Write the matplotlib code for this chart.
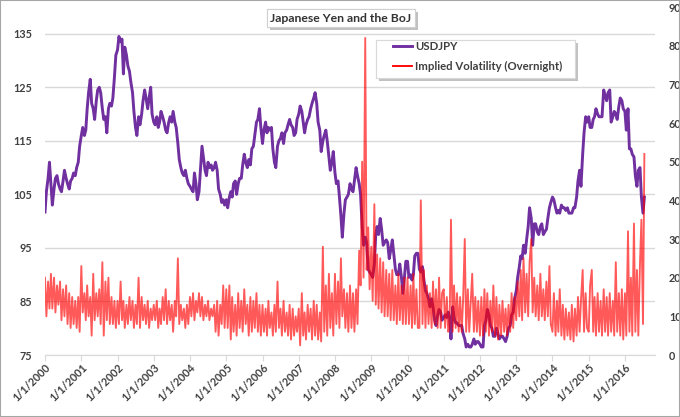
import matplotlib
matplotlib.use('Agg')
import matplotlib.pyplot as plt
import matplotlib.dates as mdates
import matplotlib.patheffects as pe
from matplotlib.patches import Rectangle
import pandas as pd

# semi-monthly readings (1st and 15th of each month), Jan 2000 - Jul 2016
start_date = '2000-01-01'

usdjpy_by_year = [
    [101.7, 105.5, 108, 111, 107, 103, 106, 108, 108.5, 107, 106, 105.5, 107.5, 109.5, 108, 107, 106, 107.5, 108, 109, 108.5, 110, 111, 114],
    [116, 117.5, 116, 117, 121, 124, 126.5, 122, 121, 119, 122.5, 124.5, 125, 124, 121, 119, 119.5, 116.5, 121, 122, 121.5, 123, 127, 131],
    [132, 134.5, 133.5, 134, 127.5, 132.5, 131, 129, 128, 126, 124, 120.5, 117.5, 116, 119.5, 118, 120, 122.5, 124.5, 123, 121, 123, 125, 120],
    [118.5, 118, 119.5, 117.5, 118.5, 120.5, 119.5, 118.5, 117, 116.5, 118.5, 119.5, 118.5, 120.5, 118.5, 117.5, 114.5, 111.5, 110, 109, 108.5, 109.5, 108, 107],
    [106.5, 106, 105.5, 109, 107, 104, 105.5, 109.5, 114, 112, 109.5, 108.5, 111, 110, 110.5, 109.5, 110, 111, 109.5, 106, 105, 103.5, 104, 103],
    [104, 102.5, 104.5, 105.5, 104.5, 107, 107.5, 105, 107, 108, 108, 110.5, 112.5, 111, 110, 111.5, 110.5, 113.5, 114, 116, 118.5, 119, 121, 117.5],
    [114.5, 117, 118.5, 116.5, 117.5, 117, 117.5, 113.5, 111, 110, 114, 115, 115.5, 116.5, 114.5, 116.5, 117, 118, 119, 118, 117.5, 116, 116.5, 119],
    [120, 121.5, 120.5, 118.5, 116.5, 118, 119, 119.5, 121, 122, 123, 124, 122, 118.5, 117, 113, 115, 116, 117, 115, 112, 109.5, 111, 113],
    [109, 107, 107.5, 104.5, 101, 97, 101.5, 104, 104.5, 105, 107, 106, 105.5, 107.5, 110, 108.5, 107, 105, 99, 95.5, 97, 96, 91, 90.5],
    [90, 89.5, 92, 97.5, 99, 97.5, 100.5, 98.5, 95.5, 96, 96.5, 96, 93, 94.5, 96.5, 94, 91, 90, 90, 92, 89.5, 86.5, 89.5, 92.5],
    [92.5, 89.5, 90, 89, 90, 93.5, 94, 94, 91, 90.5, 91.5, 89, 87, 86.5, 85.5, 84, 85.5, 84, 81.5, 80.5, 82.5, 83.5, 83, 81.5],
    [82, 82.5, 82, 83, 82, 78, 84, 82, 81, 81, 80.5, 80.5, 80.5, 79, 78, 76.5, 77, 76.5, 76.5, 77, 78, 77, 77.5, 77.5],
    [77, 76.5, 76.5, 80.5, 81.5, 83.5, 82.5, 80.5, 80, 78.5, 78.5, 80, 79, 78, 78.5, 78.5, 78, 77.5, 78.5, 80, 80.5, 82.5, 83, 85.5],
    [87, 89.5, 91.5, 93.5, 93, 95.5, 94, 96.5, 99, 102.5, 100.5, 95.5, 99.5, 99.5, 98, 97.5, 99, 99.5, 97.5, 98, 98.5, 100.5, 102.5, 103.5],
    [104.5, 104, 102.5, 101.5, 102, 101.5, 103, 102.5, 102.5, 102, 102.5, 101.5, 101.5, 101.5, 102.5, 102.5, 104.5, 107.5, 109.5, 106.5, 112.5, 116.5, 119.5, 118.5],
    [119.5, 117.5, 117.5, 119, 119.5, 121, 120, 119.5, 119.5, 119.5, 124.5, 123.5, 122.5, 124, 124.5, 118.5, 119.5, 120.5, 120, 119, 121.5, 123, 122.5, 121],
    [120.5, 117, 121, 113.5, 113.5, 112.5, 112, 108.5, 106.5, 109.5, 110, 104.5, 101.5, 104.5],
]

vol_by_year = [
    [20, 10, 19, 12, 21, 12, 20, 11, 18, 13, 19, 9, 17, 10, 18, 8, 16, 7, 15, 8, 14, 7, 15, 6],
    [23, 11, 16, 9, 18, 10, 15, 5, 21, 9, 16, 10, 17, 8, 24, 5, 19, 9, 20, 8, 15, 8, 14, 7],
    [14, 8, 19, 9, 14, 7, 13, 8, 15, 9, 14, 7, 13, 8, 20, 7, 15, 9, 13, 8, 14, 7, 12, 9],
    [13, 9, 14, 7, 12, 8, 15, 9, 17, 8, 14, 9, 13, 6, 14, 10, 25, 8, 13, 9, 12, 7, 13, 8],
    [15, 10, 16, 9, 14, 11, 16, 10, 15, 9, 13, 10, 14, 9, 12, 10, 13, 6, 14, 5, 13, 8, 18, 7],
    [17, 7, 18, 4, 15, 6, 13, 5, 16, 7, 14, 6, 17, 8, 13, 5, 15, 6, 14, 7, 16, 6, 13, 5],
    [13, 6, 12, 5, 14, 7, 11, 5, 13, 6, 19, 7, 12, 5, 14, 6, 11, 5, 13, 4, 12, 5, 10, 6],
    [12, 2.5, 16, 5, 11, 4, 13, 6, 12, 4, 14, 5, 13, 4, 11, 3.5, 28, 6, 18, 5, 21, 7, 16, 5],
    [21, 8, 19, 7, 25, 10, 17, 7, 16, 6, 18, 7, 16, 6, 17, 8, 27, 18, 50, 20, 82, 22, 33, 17],
    [28, 14, 39, 13, 26, 12, 25, 11, 24, 10, 22, 10, 21, 9, 22, 9, 18, 8, 21, 9, 18, 8, 20, 8],
    [20, 8, 18, 7, 21, 8, 17, 7, 7, 40, 8, 22, 7, 18, 8, 16, 7, 19, 8, 17, 7, 20, 7, 16],
    [17, 7, 15, 6, 7, 35, 6, 18, 7, 16, 6, 15, 6, 14, 30, 6, 17, 6, 14, 21, 6, 15, 6, 14],
    [5, 15, 5, 17, 6, 16, 5, 14, 6, 18, 5, 15, 4, 13, 5, 14, 6, 12, 5, 13, 6, 16, 7, 15],
    [9, 19, 10, 22, 9, 25, 11, 21, 10, 24, 30, 11, 20, 10, 18, 9, 21, 10, 17, 9, 19, 10, 23, 8],
    [6, 16, 5, 14, 6, 17, 5, 13, 4, 12, 5, 11, 4, 13, 3.5, 12, 5, 15, 6, 14, 22, 6, 16, 7],
    [6, 18, 22, 6, 15, 5, 16, 6, 14, 5, 17, 6, 15, 5, 16, 6, 14, 5, 24, 6, 16, 5, 17, 4],
    [16, 5, 32, 6, 20, 5, 34, 6, 22, 5, 24, 35, 8, 52],
]

usdjpy = [v for year in usdjpy_by_year for v in year]
vol = [v for year in vol_by_year for v in year]
assert len(usdjpy) == len(vol)
dates = pd.date_range(start_date, periods=len(usdjpy), freq='SMS')

left_ticks = list(range(75, 136, 10))
right_ticks = list(range(0, 91, 10))

plt.rcParams['font.family'] = ['Lato', 'DejaVu Sans']
text_col = '#404040'
grid_col = '#d9d9d9'
W, H = 680, 417

fig = plt.figure(figsize=(6.8, 4.17), dpi=100)
ax = fig.add_axes([45 / W, 62 / H, 610 / W, 348 / H])
ax2 = ax.twinx()

l1, = ax.plot(dates, usdjpy, color='#7030A0', lw=2.1, label='USDJPY')
l2, = ax2.plot(dates, vol, color='#FF0000', alpha=0.65, lw=1.35,
               label='Implied Volatility (Overnight)')

ax.set_xlim(pd.Timestamp('2000-01-01'), pd.Timestamp('2016-10-30'))
ax.set_ylim(75, 140)
ax.set_yticks(left_ticks)
ax2.set_ylim(0, 90)
ax2.set_yticks(right_ticks)

ax.grid(axis='y', color=grid_col, lw=1.0)
ax.set_axisbelow(True)
for s in ['top', 'left', 'right']:
    ax.spines[s].set_visible(False)
    ax2.spines[s].set_visible(False)
ax2.spines['bottom'].set_visible(False)
ax.spines['bottom'].set_color(grid_col)

ax.xaxis.set_major_locator(mdates.YearLocator())
ax.xaxis.set_major_formatter(plt.FuncFormatter(
    lambda v, p: '1/1/%d' % mdates.num2date(v).year))
ax.tick_params(axis='x', length=4, color=grid_col, labelsize=7.8,
               labelcolor=text_col, pad=1)
for lab in ax.get_xticklabels():
    lab.set_rotation(45)
    lab.set_ha('right')
    lab.set_va('top')
    lab.set_rotation_mode('anchor')
    lab.set_fontweight('bold')

ax.tick_params(axis='y', length=0, labelsize=7.8, labelcolor=text_col, pad=9)
ax2.tick_params(axis='y', length=0, labelsize=7.8, labelcolor=text_col, pad=10)
for lab in ax.get_yticklabels() + ax2.get_yticklabels():
    lab.set_fontweight('bold')

# legend frame drawn by hand so the padding matches
leg_box = Rectangle((376 / W, 1 - 78 / H), 199 / W, 38 / H, transform=fig.transFigure,
                    fc='white', ec=grid_col, lw=0.8, zorder=4)
leg_box.set_path_effects([
    pe.withSimplePatchShadow(offset=(2, -2), shadow_rgbFace='#999999', alpha=0.6),
    pe.Normal()])
fig.add_artist(leg_box)

leg = fig.legend(handles=[l1, l2], loc='upper left',
                 bbox_to_anchor=(393 / W, 1 - 41 / H),
                 frameon=False, handlelength=1.65, handletextpad=0.3,
                 borderpad=0, labelspacing=0.75, borderaxespad=0,
                 prop={'size': 8.2, 'weight': 'bold'})
leg.set_zorder(6)
for t in leg.get_texts():
    t.set_color(text_col)
for h in leg.get_lines():
    h.set_alpha(1)

title = fig.text(341 / W, 1 - 18 / H, 'Japanese Yen and the BoJ',
                 ha='center', va='center', fontsize=8.8, fontweight='bold',
                 color='#333333',
                 bbox=dict(boxstyle='square,pad=0.3', fc='white', ec='#d0d0d0', lw=0.8))
title.get_bbox_patch().set_path_effects([
    pe.withSimplePatchShadow(offset=(2, -2), shadow_rgbFace='#999999', alpha=0.6),
    pe.Normal()])

fig.add_artist(Rectangle((0, 0), 1, 1, transform=fig.transFigure, fill=False,
                         ec='#a6a6a6', lw=1.5))

fig.savefig('out.png', dpi=100, facecolor='white')
